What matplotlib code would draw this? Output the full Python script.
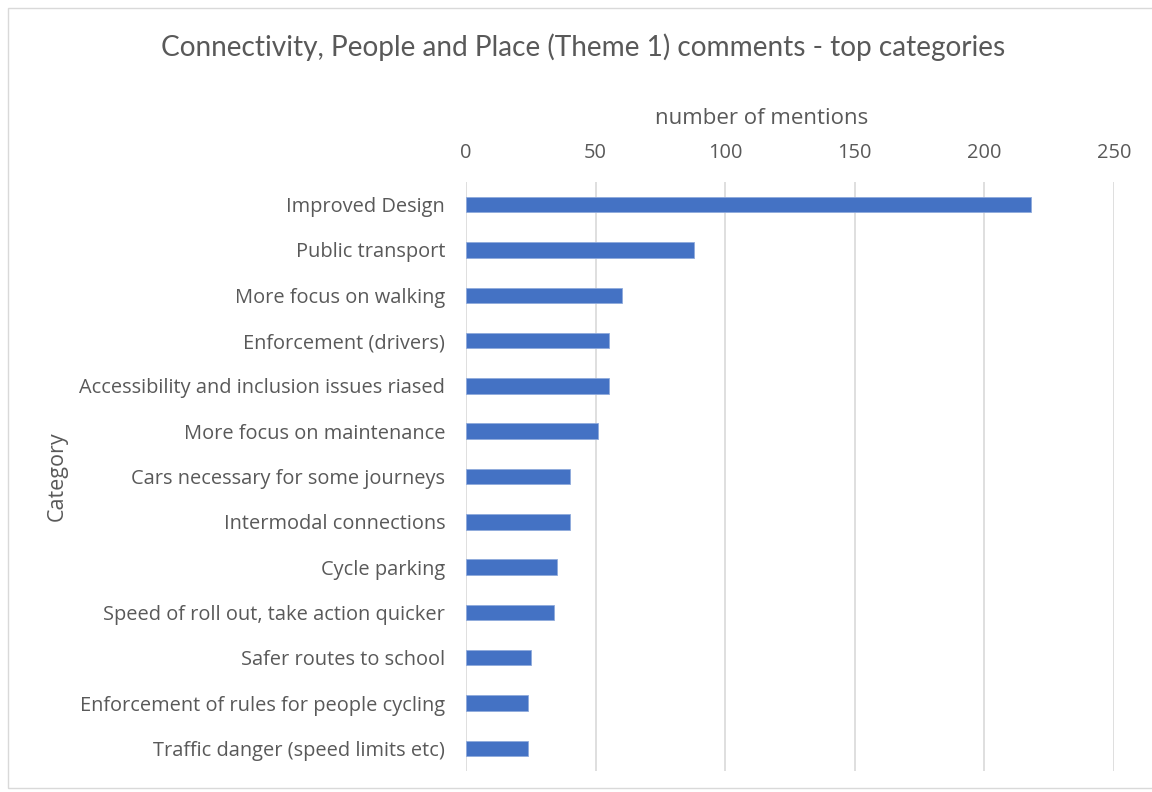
import matplotlib.pyplot as plt
from matplotlib.patches import Rectangle

categories = [
    'Improved Design',
    'Public transport',
    'More focus on walking',
    'Enforcement (drivers)',
    'Accessibility and inclusion issues riased',
    'More focus on maintenance',
    'Cars necessary for some journeys',
    'Intermodal connections',
    'Cycle parking',
    'Speed of roll out, take action quicker',
    'Safer routes to school',
    'Enforcement of rules for people cycling',
    'Traffic danger (speed limits etc)',
]
mentions = [218, 88, 60, 55, 55, 51, 40, 40, 35, 34, 25, 24, 24]
xticks = [0, 50, 100, 150, 200, 250]

plt.rcParams['font.family'] = ['Open Sans', 'DejaVu Sans']
grey = '#595959'

fig = plt.figure(figsize=(11.52, 7.92), dpi=100)
ax = fig.add_axes([466 / 1152, 1 - 771 / 792, (1114 - 466) / 1152, (771 - 182) / 792])

ypos = list(range(len(categories)))
ax.barh(ypos, mentions, height=0.34, color='#4472c4', edgecolor='#8faadc', linewidth=0.6, zorder=3)
ax.set_ylim(len(categories) - 0.5, -0.5)
ax.set_xlim(0, 250)
ax.set_yticks(ypos)
ax.set_yticklabels(categories, fontsize=14.4, color=grey)
ax.set_xticks(xticks)
ax.set_xticklabels([str(t) for t in xticks], fontsize=14.4, color=grey)
ax.xaxis.tick_top()
ax.tick_params(axis='both', length=0)
ax.tick_params(axis='x', pad=14)
ax.tick_params(axis='y', pad=15)
ax.grid(axis='x', color='#d9d9d9', linewidth=1.2, zorder=0)
for s in ax.spines.values():
    s.set_visible(False)

fig.text(762 / 1152, 1 - 118 / 792, 'number of mentions', fontsize=16, color=grey,
         ha='center', va='center')
fig.text(57 / 1152, 1 - 476 / 792, 'Category', rotation=90, fontsize=15.5, color=grey,
         ha='center', va='center')
fig.text(583 / 1152, 1 - 47 / 792, 'Connectivity, People and Place (Theme 1) comments - top categories',
         fontsize=20.2, color=grey, ha='center', va='center', family=['Lato', 'DejaVu Sans'])

# light frame round the chart area
fig.patches.append(Rectangle((8 / 1152, 4 / 792), 1.1, 1 - 12 / 792, transform=fig.transFigure,
                             fill=False, edgecolor='#d9d9d9', linewidth=1))

fig.savefig('out.png', dpi=100)
